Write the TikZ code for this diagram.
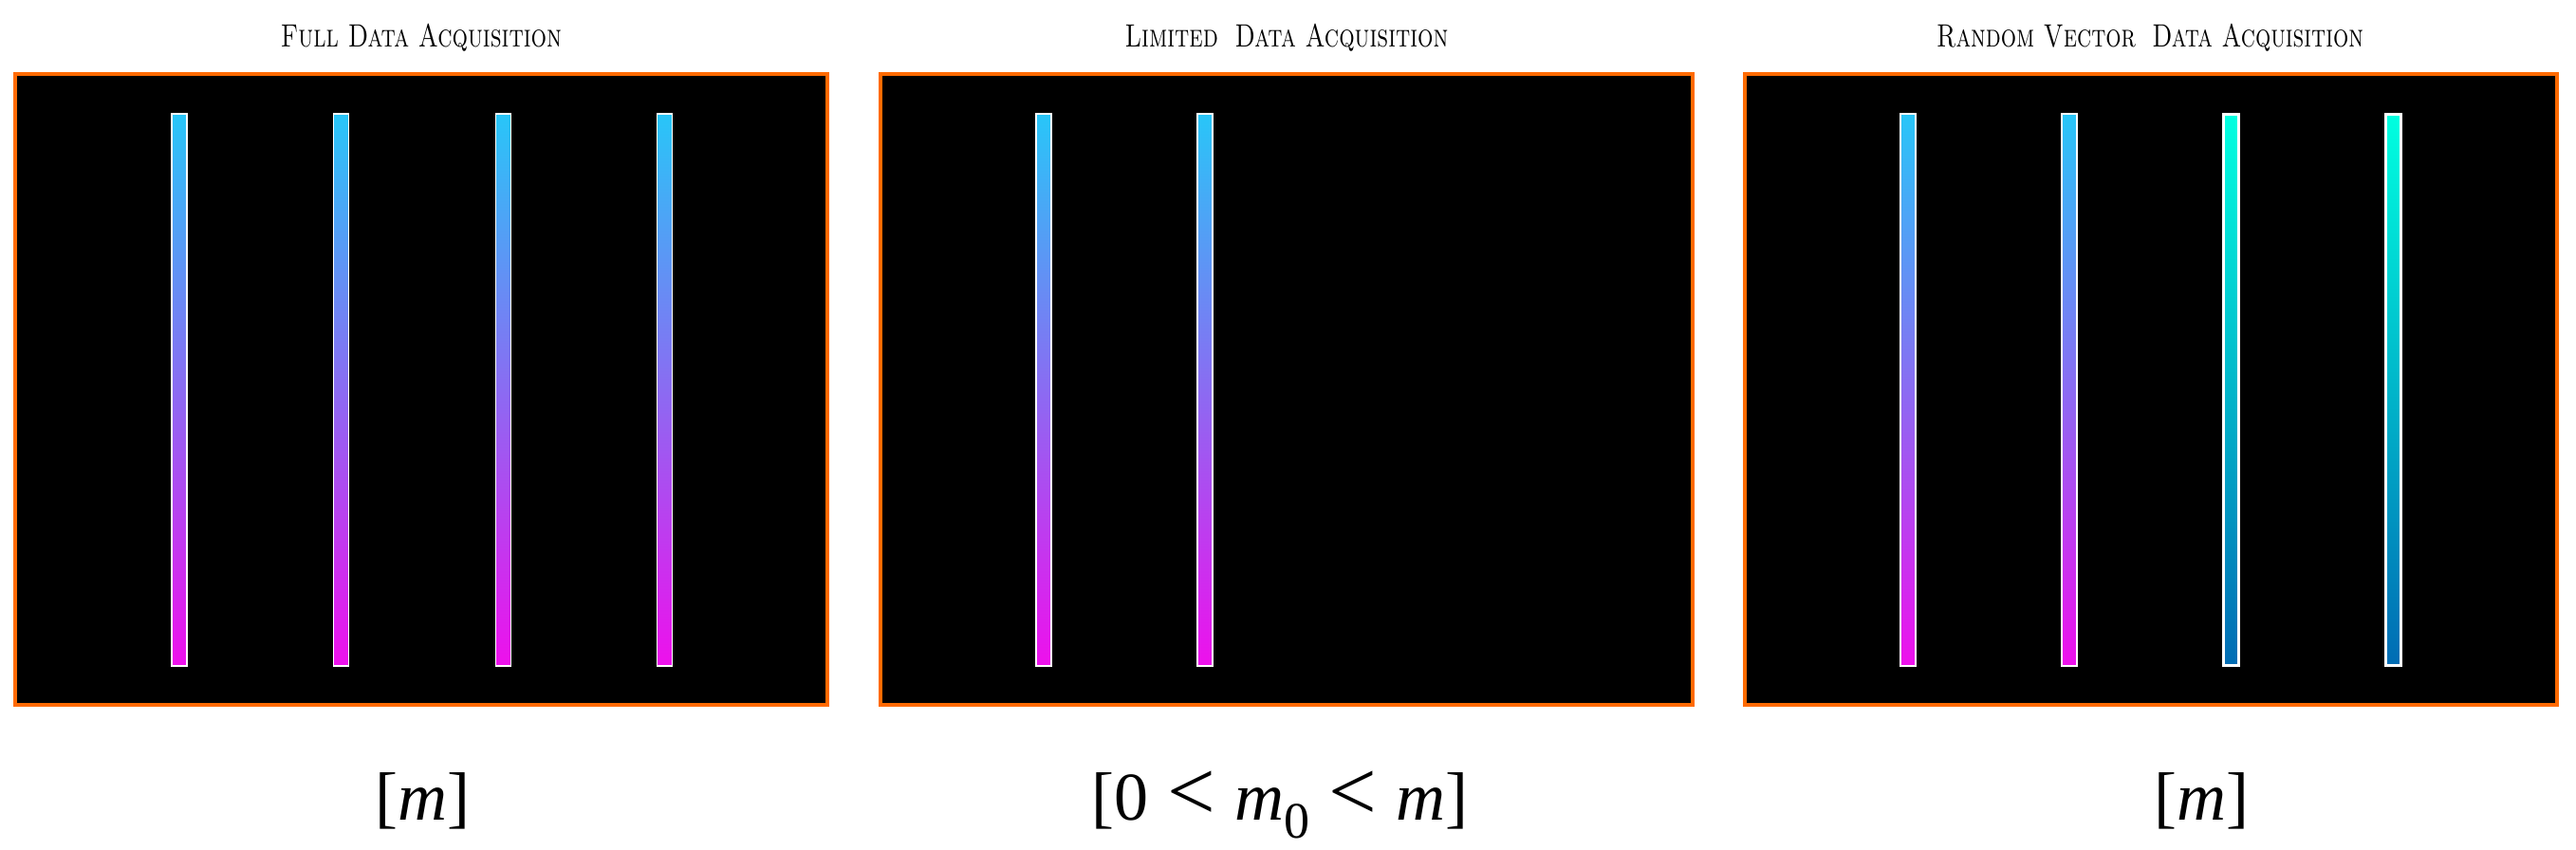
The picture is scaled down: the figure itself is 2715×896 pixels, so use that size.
\documentclass[tikz,border=0pt]{standalone}
\usepackage{fontspec}
\usepackage{graphicx}
\newfontfamily\labfont{Liberation Serif}
\definecolor{panelorange}{RGB}{255,106,0}
\definecolor{barTop}{RGB}{40,198,248}
\definecolor{barMid}{RGB}{128,112,232}
\definecolor{barBot}{RGB}{238,16,236}
\definecolor{aquaTop}{RGB}{0,255,224}
\definecolor{aquaMid}{RGB}{0,170,172}
\definecolor{aquaBot}{RGB}{0,108,180}
\newcommand{\gradbar}[1]{\shade[top color=barTop, middle color=barMid, bottom color=barBot, draw=white, line width=1.5pt] (#1-8,120) rectangle (#1+8,702);}
\newcommand{\aquabar}[1]{\shade[top color=aquaTop, middle color=aquaMid, bottom color=aquaBot, draw=white, line width=3pt] (#1-8,121) rectangle (#1+8,701);}
\newcommand{\biglt}{{\fontsize{90}{90}\selectfont<}}
\begin{document}
\begin{tikzpicture}[x=1pt,y=-1pt,
  panel/.style={draw=panelorange, fill=black, line width=4pt, minimum width=856pt, minimum height=665pt, inner sep=0pt, outer sep=0pt},
  ttl/.style={anchor=base, inner sep=0pt, font=\fontsize{34}{40}\selectfont\scshape},
  lab/.style={anchor=base, inner sep=0pt, font=\fontsize{72}{80}\selectfont\labfont}]
\useasboundingbox[fill=white] (0,0) rectangle (2715,896);
% panels
\node[panel] (p1) at (444,410.5) {};
\node[panel] (p2) at (1356,410.5) {};
\node[panel] (p3) at (2267,410.5) {};
% titles
\node[ttl] (t1) at (444,50) {\resizebox{296pt}{\height}{Full Data Acquisition}};
\node[ttl] (t2) at (1356,50) {\resizebox{341pt}{\height}{Limited\hspace{0.3em} Data Acquisition}};
\node[ttl] (t3) at (2266,50) {\resizebox{450pt}{\height}{Random Vector\hspace{0.3em} Data Acquisition}};
% bars panel 1
\gradbar{189}
\gradbar{359.5}
\gradbar{530.5}
\gradbar{700.5}
% bars panel 2
\gradbar{1100}
\gradbar{1270}
% bars panel 3
\gradbar{2011}
\gradbar{2181}
\aquabar{2351.5}
\aquabar{2522}
% labels
\node[lab] (l1) at (445,864) {[\textit{m}]};
\node[lab] (l2) at (1349,864) {[0\hspace{20pt}\biglt\hspace{20pt}\textit{m}\raisebox{-19pt}{\fontsize{54}{54}\selectfont 0}\hspace{20pt}\biglt\hspace{20pt}\textit{m}]};
\node[lab] (l3) at (2320,864) {[\textit{m}]};
\end{tikzpicture}
\end{document}
